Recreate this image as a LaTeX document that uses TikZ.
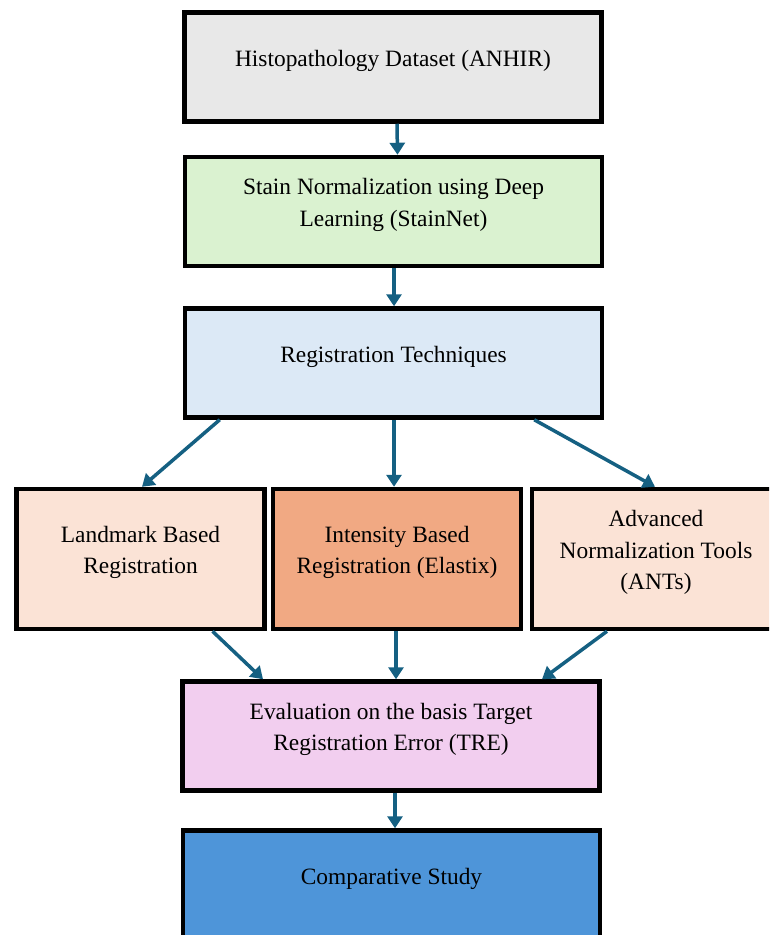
\documentclass[tikz,border=0pt]{standalone}
\usepackage{fontspec}
\setmainfont{Liberation Serif}
\usetikzlibrary{positioning,arrows.meta}

\definecolor{flowblue}{HTML}{156082}
\definecolor{datagray}{HTML}{E8E8E8}
\definecolor{stainfill}{HTML}{DAF2D0}
\definecolor{regfill}{HTML}{DCE9F6}
\definecolor{peach}{HTML}{FBE3D6}
\definecolor{elastixfill}{HTML}{F1A983}
\definecolor{evalfill}{HTML}{F2CEEF}
\definecolor{compfill}{HTML}{4E95D9}

\begin{document}
\begin{tikzpicture}[x=1pt, y=-1pt, >={Triangle[width=15pt,length=12pt]},
  box/.style={draw=black, line width=4.5pt, align=center, text depth=18pt,
    font=\fontsize{23.4}{31.5}\selectfont},
  widebox/.style={box, minimum width=417pt, minimum height=109pt},
  smallbox/.style={box, minimum width=248pt, minimum height=140pt},
  oneline/.style={text height=16pt},
  twolines/.style={text height=47.5pt},
  threelines/.style={text height=79pt},
  edge_style/.style={draw=flowblue, line width=3.5pt}]
  \useasboundingbox (0,0) rectangle (769,935);
  \clip (0,0) rectangle (769,935);

  \node[widebox, oneline, fill=datagray] (hist) at (393,67) {Histopathology Dataset (ANHIR)};
  \node[widebox, twolines, fill=stainfill] (stain) at (393.5,211.5) {Stain Normalization using Deep\\Learning (StainNet)};
  \node[widebox, oneline, fill=regfill] (reg) at (393.5,363) {Registration Techniques};

  \node[smallbox, twolines, fill=peach] (landmark) at (140.5,559) {Landmark Based\\Registration};
  \node[smallbox, twolines, fill=elastixfill] (intensity) at (397,559) {Intensity Based\\Registration (Elastix)};
  \node[smallbox, threelines, fill=peach] (ants) at (656,559) {Advanced\\Normalization Tools\\(ANTs)};

  \node[widebox, twolines, fill=evalfill] (eval) at (391,736) {Evaluation on the basis Target\\Registration Error (TRE)};
  \node[widebox, oneline, fill=compfill] (comp) at (391.5,885) {Comparative Study};

  % arrows
  \draw[edge_style,->] ([xshift=4pt]hist.south) -- ([xshift=4pt]stain.north);
  \draw[edge_style,->] ([xshift=0.5pt]stain.south) -- ([xshift=0.5pt]reg.north);
  \draw[edge_style,->] ([xshift=37pt]reg.south west) -- ([xshift=1.5pt]landmark.north);
  \draw[edge_style,->] ([xshift=0.5pt]reg.south) -- ([xshift=-3pt]intensity.north);
  \draw[edge_style,->] ([xshift=-70pt]reg.south east) -- ([xshift=-1pt]ants.north);
  \draw[edge_style,->] ([xshift=72pt]landmark.south) -- ([xshift=-128pt]eval.north);
  \draw[edge_style,->] ([xshift=-1pt]intensity.south) -- ([xshift=5pt]eval.north);
  \draw[edge_style,->] ([xshift=-49pt]ants.south) -- ([xshift=151pt]eval.north);
  \draw[edge_style,->] ([xshift=4pt]eval.south) -- ([xshift=3.5pt]comp.north);
\end{tikzpicture}
\end{document}
